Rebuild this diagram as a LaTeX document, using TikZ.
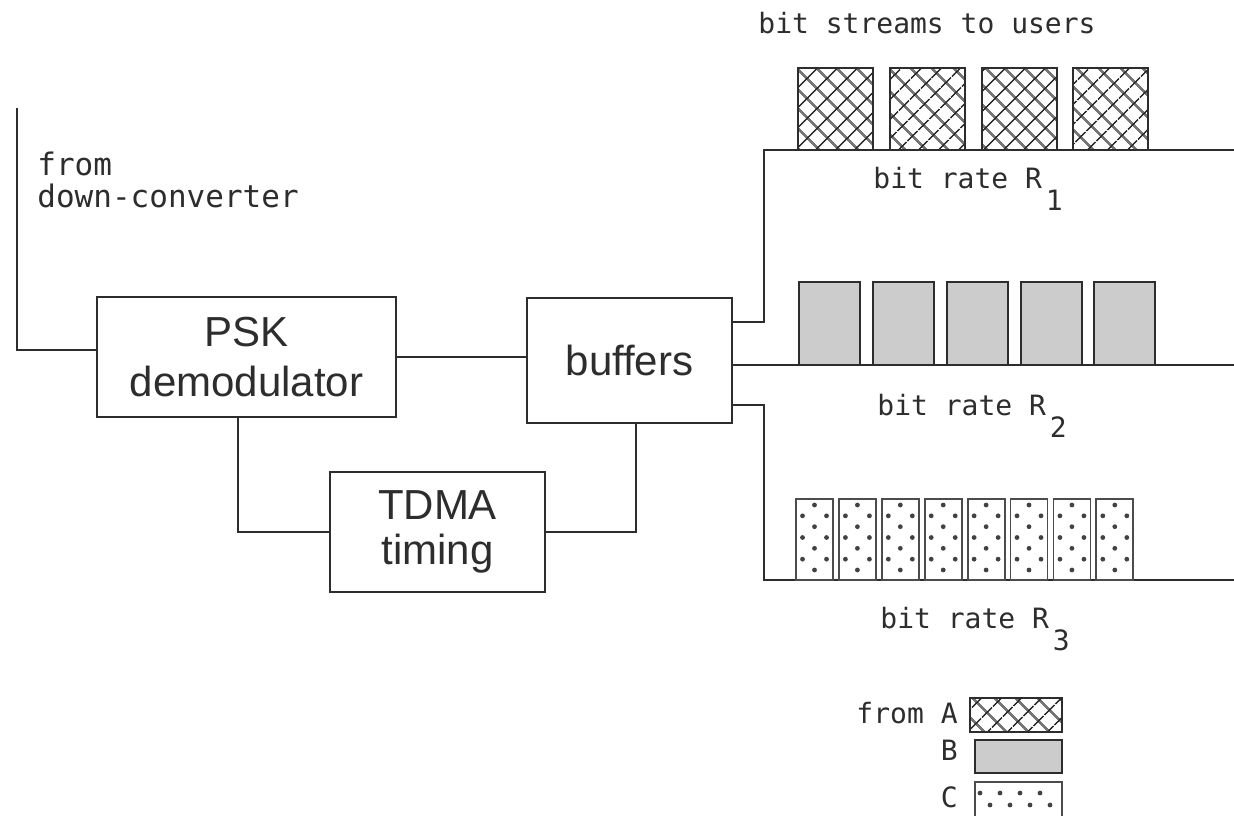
\documentclass[tikz,border=0pt]{standalone}
\usepackage{fontspec}
\setmainfont{Liberation Sans}
\newfontfamily\stencil{DejaVu Sans Mono}
\usetikzlibrary{patterns.meta,calc}
\definecolor{ink}{RGB}{45,45,45}
\tikzset{
  block/.style={draw=ink, line width=1pt, inner sep=0pt, align=center, text=ink},
  wire/.style={draw=ink, line width=1pt},
  lbl/.style={inner sep=0pt, text=ink, font=\stencil\fontsize{14}{18}\selectfont},
  crossbox/.style={draw=ink, line width=1pt, pattern={Hatch[angle=45,distance=7.4pt,line width=0.9pt]}, pattern color=ink},
  greybox/.style={draw=ink, line width=1.4pt, fill=black!20},
  dotbox/.style={draw=ink!85, line width=0.9pt},
  speck/.style={fill=ink!90, draw=none},
}
\newcommand{\lowsub}[1]{\kern2pt\raisebox{-11pt}{#1}}
\begin{document}
\begin{tikzpicture}[x=0.5pt,y=-0.5pt]
\useasboundingbox (0,0) rectangle (1234,815);
\clip (0,0) rectangle (1234,815);
\fill[white] (0,0) rectangle (1234,815);

% processing blocks
\node[block, minimum width=149.5pt, minimum height=60pt, font=\fontsize{21}{25}\selectfont] (psk) at (246.5,357) {PSK\\demodulator};
\node[block, minimum width=102.5pt, minimum height=62.5pt, font=\fontsize{21}{25}\selectfont] (buf) at (629.5,360.5) {buffers};
\node[block, minimum width=107.5pt, minimum height=60pt, font=\fontsize{21}{22.5}\selectfont] (tdma) at (437.5,532) {TDMA\\timing};

% input from the down-converter
\coordinate (src) at (17,108);
\draw[wire] (src) |- ([yshift=3.5pt]psk.west);
\node[lbl, anchor=base west] (fromlbl) at (37,175) {\fontsize{15.5}{18}\selectfont from};
\node[lbl, anchor=base west] (dclbl) at (37,207) {\fontsize{15.5}{18}\selectfont down-converter};

% internal connections
\draw[wire] (psk.east) -- (psk.east -| buf.west);
\draw[wire] ([xshift=-4.25pt]psk.south) |- (tdma.west);
\draw[wire] (tdma.east) -| ([xshift=3.25pt]buf.south);

% output streams
\coordinate (j1) at (764,150);
\coordinate (o1) at (1234,150);
\draw[wire] ([yshift=19.25pt]buf.east) -| (j1) -- (o1);
\coordinate (o2) at (1234,365);
\draw[wire] ([yshift=-2.25pt]buf.east) -- (o2);
\coordinate (j3) at (764,580);
\coordinate (o3) at (1234,580);
\draw[wire] ([yshift=-22.25pt]buf.east) -| (j3) -- (o3);

% bursts on each stream
\foreach \x in {798,890,982,1073}
  \draw[crossbox] (\x,68) rectangle ++(75,82);
\foreach \x in {799,873,947,1021,1094}
  \draw[greybox] (\x,282) rectangle ++(61,83);
\foreach \i [evaluate=\i as \x using 796+42.9*\i] in {0,...,7}{
  \draw[dotbox] (\x,499) rectangle ++(37,81);
  \foreach \r [evaluate=\r as \y using 505+10.83*\r] in {0,...,6}{
    \ifodd\r
      \fill[speck] (\x+6.5,\y) circle (1.2pt);
      \fill[speck] (\x+30.5,\y) circle (1.2pt);
    \else
      \fill[speck] (\x+18.5,\y) circle (1.2pt);
    \fi
  }
}

% labels
\node[lbl, anchor=base west] (title) at (758,33) {bit streams to users};
\node[lbl, anchor=base west] (r1) at (873,188) {bit rate R\lowsub{1}};
\node[lbl, anchor=base west] (r2) at (877,415) {bit rate R\lowsub{2}};
\node[lbl, anchor=base west] (r3) at (880,628) {bit rate R\lowsub{3}};

% key
\node[lbl, anchor=base east] (keyA) at (958,723) {from A};
\node[lbl, anchor=base east] (keyB) at (958,760) {B};
\node[lbl, anchor=base east] (keyC) at (958,807) {C};
\draw[crossbox] (970,698) rectangle (1062,732);
\draw[greybox] (975,740) rectangle (1062,773);
\draw[dotbox] (975,782) rectangle (1062,822);
\foreach \x in {980,1000,1020,1040} \fill[speck] (\x,793) circle (1.2pt);
\foreach \x in {990,1010,1030,1050} \fill[speck] (\x,805) circle (1.2pt);
\end{tikzpicture}
\end{document}
